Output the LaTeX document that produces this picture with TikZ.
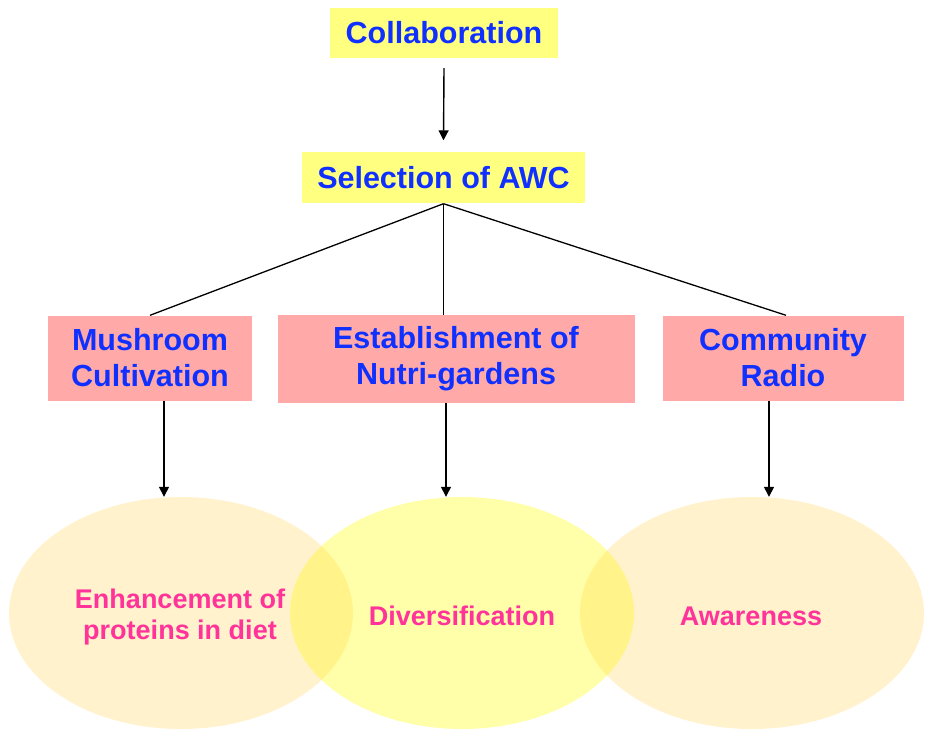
\documentclass[tikz,border=0pt]{standalone}
\usepackage{fontspec}
\setmainfont{Liberation Sans}
\usetikzlibrary{shapes.geometric,arrows.meta}
\definecolor{awcblue}{RGB}{16,48,255}
\definecolor{boxyellow}{RGB}{255,255,128}
\definecolor{boxpink}{RGB}{255,170,168}
\definecolor{peach}{RGB}{255,242,204}
\definecolor{paleyellow}{RGB}{255,255,170}
\definecolor{overlapyellow}{RGB}{255,243,138}
\definecolor{outcomepink}{RGB}{255,51,153}

\begin{document}
\begin{tikzpicture}[x=1pt, y=-1pt,
    topbox/.style={fill=boxyellow, text=awcblue, inner sep=0pt,
      font=\fontsize{30.5}{36}\selectfont\bfseries},
    activity/.style={fill=boxpink, text=awcblue, inner sep=0pt, align=center,
      font=\fontsize{30.5}{36}\selectfont\bfseries},
    outcome/.style={ellipse, inner sep=0pt, minimum width=344pt, minimum height=232pt},
    outcometext/.style={text=outcomepink, align=center, font=\fontsize{27}{31}\selectfont\bfseries},
    link/.style={line width=1.3pt},
    arrow/.style={line width=1.4pt, -{Triangle[length=10pt,width=10pt]}}]
  \useasboundingbox (0,0) rectangle (926,730);
  % Top of the chain
  \node[topbox, minimum width=228pt, minimum height=50pt] (collab) at (444,33) {Collaboration};
  \node[topbox, minimum width=283pt, minimum height=51pt] (awc) at (443.5,178) {Selection of AWC};
  \draw[arrow] ([yshift=-10pt]collab.south) -- ([yshift=12pt]awc.north);
  % Three activities
  \node[activity, minimum width=204pt, minimum height=85pt] (mush) at (150,358) {Mushroom\\Cultivation};
  \node[activity, minimum width=357pt, minimum height=88pt] (nutri) at (456,359) {Establishment of\\Nutri-gardens};
  \node[activity, minimum width=241pt, minimum height=85pt] (radio) at (783,358) {Community\\Radio};
  \draw[link] (awc.south) -- (mush.north);
  \draw[link] (awc.south) -- (awc.south |- nutri.north);
  \draw[link] (awc.south) -- ([xshift=3pt]radio.north);
  % Outcomes as overlapping ellipses
  \node[outcome, fill=peach] (enh) at (181,613) {};
  \node[outcome, fill=peach] (aware) at (752,613) {};
  \node[outcome, fill=paleyellow] (div) at (462,613) {};
  \begin{scope}
    \clip (enh.center) ellipse [x radius=172pt, y radius=116pt];
    \fill[overlapyellow] (div.center) ellipse [x radius=172pt, y radius=116pt];
  \end{scope}
  \begin{scope}
    \clip (aware.center) ellipse [x radius=172pt, y radius=116pt];
    \fill[overlapyellow] (div.center) ellipse [x radius=172pt, y radius=116pt];
  \end{scope}
  \node[outcometext] (enhtext) at (180,617) {Enhancement of\\proteins in diet};
  \node[outcometext] (divtext) at (462,616) {Diversification};
  \node[outcometext] (awaretext) at (751,616) {Awareness};
  % Activity to outcome arrows
  \draw[arrow] ([xshift=14pt]mush.south) -- ([xshift=14pt]mush.south |- enh.north);
  \draw[arrow] ([xshift=-10pt]nutri.south) -- ([xshift=-10pt]nutri.south |- div.north);
  \draw[arrow] ([xshift=-14pt]radio.south) -- ([xshift=-14pt]radio.south |- aware.north);
\end{tikzpicture}
\end{document}
